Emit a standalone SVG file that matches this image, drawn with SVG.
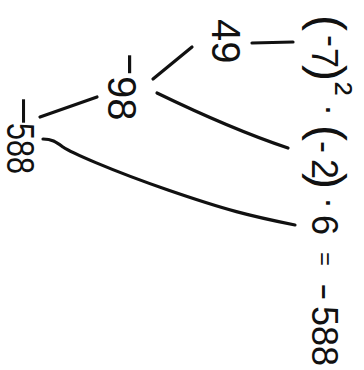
<svg xmlns="http://www.w3.org/2000/svg" width="364" height="370" viewBox="0 0 364 370">
<style>
.t{font-family:"Liberation Sans",Arial,sans-serif;fill:#111;font-size:36px}
.c{fill:none;stroke:#111;stroke-width:3.2;stroke-linecap:round;stroke-linejoin:round}
</style>
<rect width="364" height="370" fill="#fff"/>
<g id="connectors">
<path class="c" d="M252,43 L293,42"/>
<path class="c" d="M153,79 L192,47"/>
<path class="c" d="M157,93 C190,109 240,132 288,148"/>
<path class="c" d="M40,117 L97,97"/>
<path class="c" d="M43,139 C52,139 56,142 63,147 S110,170 168,190 S250,216 295,225"/>
</g>
<g id="expression">
<text class="t" transform="translate(312,0) rotate(90)"><tspan x="15" y="0" font-size="48">(</tspan><tspan x="35" y="-8">-</tspan><tspan x="48" y="0">7</tspan><tspan x="65" y="0" font-size="48">)</tspan><tspan x="82" y="-12" font-size="40">²</tspan><tspan x="104" y="-6">·</tspan><tspan x="125" y="0" font-size="48">(</tspan><tspan x="141" y="-1">-</tspan><tspan x="159" y="0">2</tspan><tspan x="173" y="0" font-size="48">)</tspan><tspan x="197" y="-6">·</tspan><tspan x="215" y="0">6</tspan><tspan x="252" y="-5" font-size="24">=</tspan><tspan x="283" y="-2" textLength="17.7" lengthAdjust="spacingAndGlyphs">-</tspan><tspan x="306" y="0">588</tspan></text>
</g>
<g id="node-49">
<text class="t" transform="translate(212,0) rotate(90)" x="19" y="0" style="font-size:40px">49</text>
</g>
<g id="node-neg98">
<text class="t" transform="translate(108,0) rotate(90)" style="font-size:40px"><tspan x="52" y="-11" textLength="24.5" lengthAdjust="spacingAndGlyphs">-</tspan><tspan x="76" y="0">98</tspan></text>
</g>
<g id="node-neg588">
<text class="t" transform="translate(7,0) rotate(90)" style="font-size:38px"><tspan x="95" y="-6" textLength="32" lengthAdjust="spacingAndGlyphs">-</tspan><tspan x="123" y="0" textLength="51" lengthAdjust="spacingAndGlyphs">588</tspan></text>
</g>
</svg>
